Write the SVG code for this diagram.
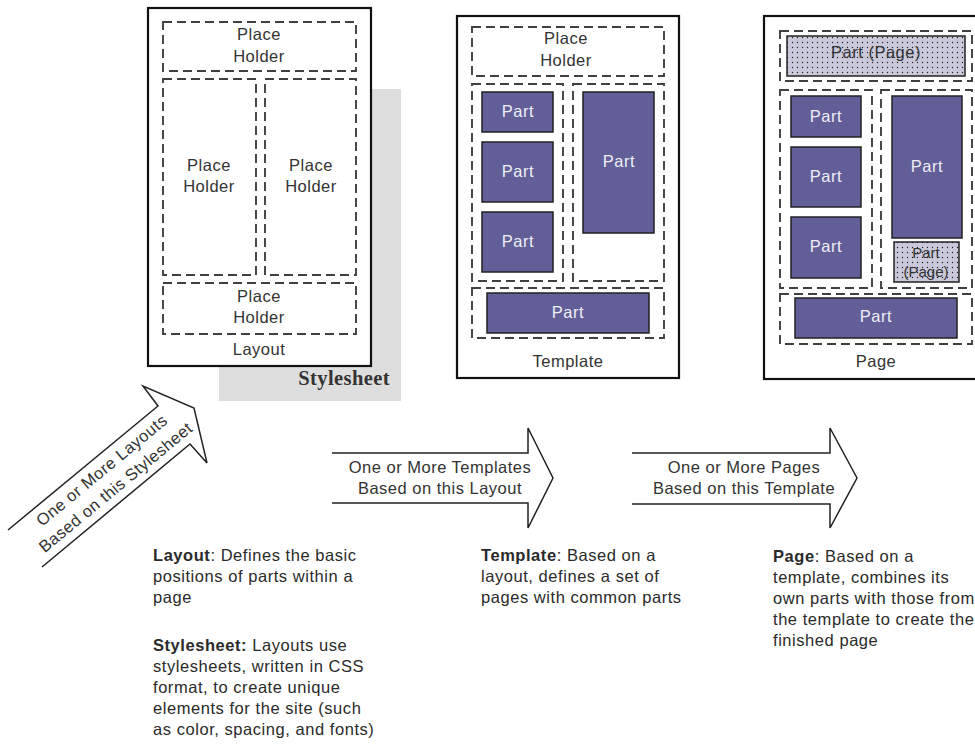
<svg xmlns="http://www.w3.org/2000/svg" width="975" height="744" viewBox="0 0 975 744">
<defs>
<pattern id="dots" width="5" height="5" patternUnits="userSpaceOnUse">
<rect width="5" height="5" fill="#c9c9db"/>
<circle cx="2.5" cy="2.5" r="0.7" fill="#222"/>
</pattern>
</defs>
<style>
.frame{fill:#fff;stroke:#111;stroke-width:2.2}
.ph{fill:none;stroke:#404040;stroke-width:1.9;stroke-dasharray:9 5}
.part{fill:#615e98;stroke:#222;stroke-width:1.5}
.ppage{fill:url(#dots);stroke:#222;stroke-width:1.5}
.t{font-family:"Liberation Sans",Arial,sans-serif;font-size:16.5px;letter-spacing:0.5px;fill:#333;text-anchor:middle}
.tw{font-family:"Liberation Sans",Arial,sans-serif;font-size:16.5px;letter-spacing:0.5px;fill:#eeeef6;text-anchor:middle}
.tp{font-family:"Liberation Sans",Arial,sans-serif;font-size:16.5px;letter-spacing:0.5px;fill:#333;text-anchor:middle}
.ts{font-family:"Liberation Sans",Arial,sans-serif;font-size:15px;fill:#333;text-anchor:middle}
.d{font-family:"Liberation Sans",Arial,sans-serif;font-size:16.5px;letter-spacing:0.55px;fill:#2a2a2a}
.b{font-weight:bold}
.arrow{fill:none;stroke:#222;stroke-width:1.5;stroke-linejoin:miter}
</style>

<g id="stylesheet">
<rect x="219" y="89" width="182" height="312" fill="#dedede"/>
<text x="390" y="385" font-family="'Liberation Serif','Times New Roman',serif" font-size="20.5" font-weight="bold" letter-spacing="0.4" fill="#333" text-anchor="end">Stylesheet</text>
</g>

<g id="layout">
<rect class="frame" x="148" y="8" width="223" height="358"/>
<rect class="ph" x="163" y="22" width="193" height="49"/>
<text class="t" x="259" y="40">Place</text>
<text class="t" x="259" y="62">Holder</text>
<rect class="ph" x="163" y="79" width="93" height="196"/>
<text class="t" x="209" y="171">Place</text>
<text class="t" x="209" y="192">Holder</text>
<rect class="ph" x="265" y="79" width="91" height="196"/>
<text class="t" x="311" y="171">Place</text>
<text class="t" x="311" y="192">Holder</text>
<rect class="ph" x="163" y="283" width="193" height="51"/>
<text class="t" x="259" y="302">Place</text>
<text class="t" x="259" y="323">Holder</text>
<text class="t" x="259" y="355">Layout</text>
</g>

<g id="template">
<rect class="frame" x="457" y="16" width="222" height="362"/>
<rect class="ph" x="472" y="27" width="192" height="49"/>
<text class="t" x="566" y="44">Place</text>
<text class="t" x="566" y="66">Holder</text>
<rect class="ph" x="472" y="84" width="91" height="197"/>
<rect class="ph" x="573" y="84" width="91" height="197"/>
<rect class="part" x="482" y="92" width="71" height="40"/>
<text class="tw" x="518" y="117">Part</text>
<rect class="part" x="482" y="142" width="71" height="60"/>
<text class="tw" x="518" y="177">Part</text>
<rect class="part" x="482" y="212" width="71" height="60"/>
<text class="tw" x="518" y="247">Part</text>
<rect class="part" x="583" y="92" width="71" height="141"/>
<text class="tw" x="619" y="167">Part</text>
<rect class="ph" x="472" y="288" width="192" height="50"/>
<rect class="part" x="487" y="293" width="162" height="40"/>
<text class="tw" x="568" y="318">Part</text>
<text class="t" x="568" y="367">Template</text>
</g>

<g id="page">
<rect class="frame" x="764" y="16" width="222" height="363"/>
<rect class="ph" x="780" y="31" width="192" height="50"/>
<rect class="ppage" x="787" y="36" width="178" height="40"/>
<text class="tp" x="876" y="58">Part (Page)</text>
<rect class="ph" x="780" y="90" width="92" height="198"/>
<rect class="ph" x="881" y="90" width="91" height="198"/>
<rect class="part" x="791" y="96" width="70" height="41"/>
<text class="tw" x="826" y="122">Part</text>
<rect class="part" x="791" y="147" width="70" height="60"/>
<text class="tw" x="826" y="182">Part</text>
<rect class="part" x="791" y="217" width="70" height="61"/>
<text class="tw" x="826" y="252">Part</text>
<rect class="part" x="892" y="96" width="70" height="142"/>
<text class="tw" x="927" y="172">Part</text>
<rect class="ppage" x="894" y="242" width="65" height="40"/>
<text class="ts" x="926" y="258">Part</text>
<text class="ts" x="926" y="277">(Page)</text>
<rect class="ph" x="780" y="294" width="192" height="50"/>
<rect class="part" x="795" y="298" width="162" height="40"/>
<text class="tw" x="876" y="322">Part</text>
<text class="t" x="876" y="367">Page</text>
</g>

<g id="connectors">
<g id="arrow-stylesheet-layout">
<path class="arrow" d="M8,530 L158,406 L143,386 L194,408 L207,463 L190,444 L42,567"/>
<g transform="translate(108.5,478.5) rotate(-39.6)">
<text class="t" x="0" y="-5">One or More Layouts</text>
<text class="t" x="0" y="17">Based on this Stylesheet</text>
</g>
</g>
<g id="arrow-layout-template">
<path class="arrow" d="M332,453 L528,453 L528,428 L553,478 L528,528 L528,503 L332,503"/>
<text class="t" x="440" y="473">One or More Templates</text>
<text class="t" x="440" y="494">Based on this Layout</text>
</g>
<g id="arrow-template-page">
<path class="arrow" d="M632,453 L830,453 L830,428 L857,478 L830,528 L830,504 L632,504"/>
<text class="t" x="744" y="473">One or More Pages</text>
<text class="t" x="744" y="494">Based on this Template</text>
</g>
</g>

<g id="descriptions">
<text class="d" x="153" y="561"><tspan class="b">Layout</tspan>: Defines the basic</text>
<text class="d" x="153" y="582">positions of parts within a</text>
<text class="d" x="153" y="603">page</text>
<text class="d" x="153" y="651"><tspan class="b">Stylesheet:</tspan> Layouts use</text>
<text class="d" x="153" y="672">stylesheets, written in CSS</text>
<text class="d" x="153" y="693">format, to create unique</text>
<text class="d" x="153" y="714">elements for the site (such</text>
<text class="d" x="153" y="735">as color, spacing, and fonts)</text>
<text class="d" x="481" y="561"><tspan class="b">Template</tspan>: Based on a</text>
<text class="d" x="481" y="582">layout, defines a set of</text>
<text class="d" x="481" y="603">pages with common parts</text>
<text class="d" x="773" y="562"><tspan class="b">Page</tspan>: Based on a</text>
<text class="d" x="773" y="583">template, combines its</text>
<text class="d" x="773" y="604">own parts with those from</text>
<text class="d" x="773" y="625">the template to create the</text>
<text class="d" x="773" y="646">finished page</text>
</g>
</svg>
